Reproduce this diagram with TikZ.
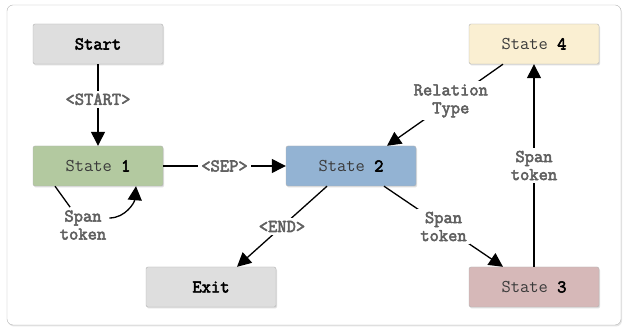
\documentclass[tikz,border=0pt]{standalone}
\usepackage{fontspec}
\setmonofont{Latin Modern Mono}[BoldFont=Latin Modern Mono, BoldFeatures={FakeBold=3}]
\usetikzlibrary{arrows.meta,shadows}
\definecolor{boxgray}{HTML}{DEDEDE}
\definecolor{sgreen}{HTML}{B3C9A0}
\definecolor{sblue}{HTML}{93B3D3}
\definecolor{scream}{HTML}{FAEFD2}
\definecolor{spink}{HTML}{D6B8B8}
\definecolor{lblgray}{HTML}{606060}
\definecolor{txtgray}{HTML}{3A3A3A}

\begin{document}
\begin{tikzpicture}[x=1pt,y=-1pt,
	state/.style={draw=gray!60, rounded corners=2pt, minimum width=130pt, minimum height=40pt, text=txtgray,
		font=\ttfamily\fontsize{18}{20}\selectfont, drop shadow={shadow xshift=1pt,shadow yshift=-1.5pt,opacity=0.25}},
	lbl/.style={fill=white, text=lblgray, font=\ttfamily\bfseries\fontsize{18}{18}\selectfont, align=center, inner sep=3pt},
	arr/.style={-{Triangle[length=14pt,width=14pt]}, line width=1.3pt}]
			\useasboundingbox (0,0) rectangle (624,328);
			\draw[gray!60, rounded corners=6pt, fill=white, drop shadow={shadow xshift=1pt,shadow yshift=-1.5pt,opacity=0.2}] (7,5) rectangle (621,325);
			% states
			\node[state, fill=boxgray] (start) at (98,44) {\textcolor{black}{\textbf{Start}}};
			\node[state, fill=sgreen] (s1) at (98,166) {State \textcolor{black}{\textbf{1}}};
			\node[state, fill=sblue] (s2) at (351,166) {State \textcolor{black}{\textbf{2}}};
			\node[state, fill=boxgray] (exit) at (211,287) {\textcolor{black}{\textbf{Exit}}};
			\node[state, fill=scream] (s4) at (534,44) {State \textcolor{black}{\textbf{4}}};
			\node[state, fill=spink] (s3) at (534,287) {State \textcolor{black}{\textbf{3}}};
			% transitions
			\draw[arr] (start) -- node[lbl, pos=0.43]{<START>} (s1);
			\draw[arr] (s1) -- node[lbl]{<SEP>} (s2);
			\draw[arr] ([xshift=-24pt]s2.south) -- node[lbl]{<END>} ([xshift=26pt]exit.north);
			\draw[arr] ([xshift=33pt]s2.south) -- node[lbl]{Span\\token} ([xshift=-31pt]s3.north);
			\draw[arr] (s3) -- node[lbl]{Span\\token} (s4);
			\draw[arr] ([xshift=-31pt]s4.south) -- node[lbl, pos=0.45]{Relation\\Type} ([xshift=36pt]s2.north);
			% self loop
			\node[lbl] (loop) at (83,225) {Span\\token};
			\draw[line width=1.3pt] ([xshift=-43pt]s1.south) -- (loop);
			\draw[arr] ([yshift=7pt]loop.east) to[out=0,in=-95] ([xshift=38pt]s1.south);
\end{tikzpicture}
\end{document}
